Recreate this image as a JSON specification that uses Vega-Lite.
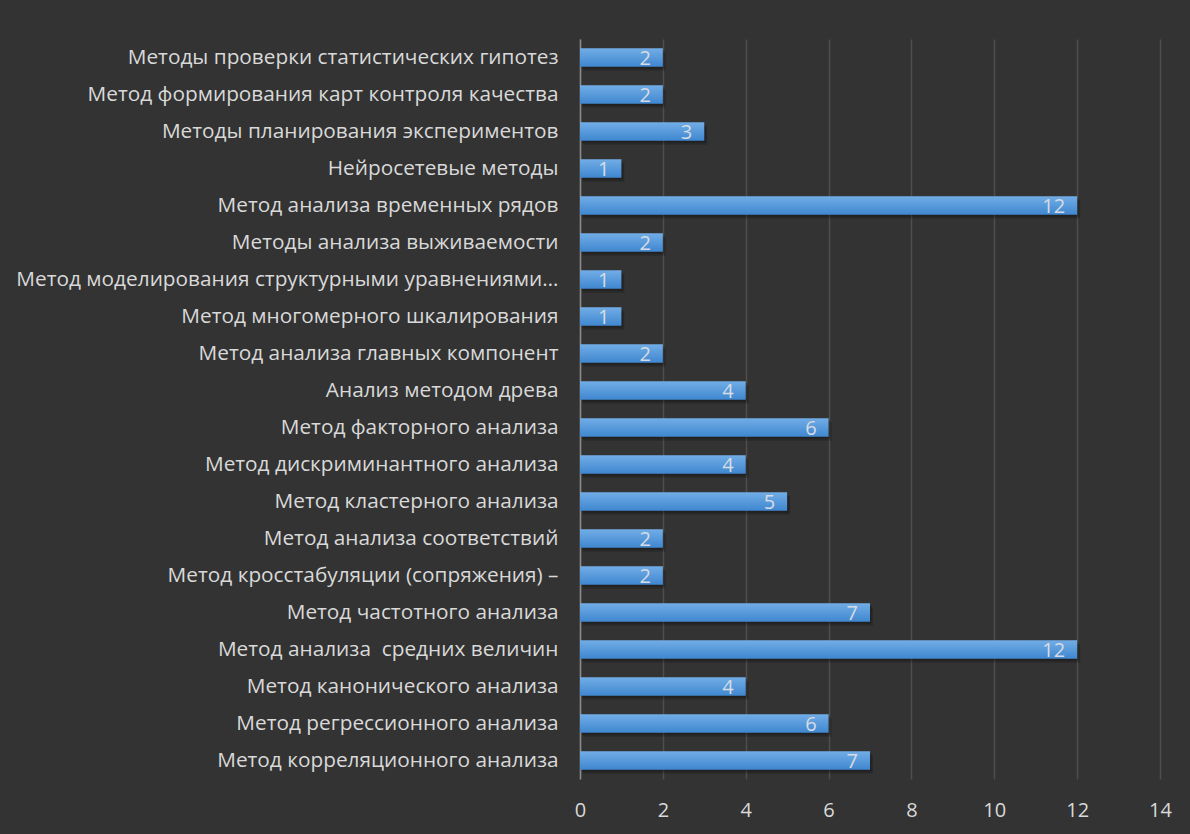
{
  "$schema": "https://vega.github.io/schema/vega-lite/v6.json",
  "autosize": "none",
  "width": 580,
  "height": 740,
  "padding": {"left": 580, "top": 39, "right": 30, "bottom": 55},
  "background": "#333333",
  "config": {
    "view": {"stroke": null},
    "font": "Open Sans",
    "axis": {"labelFont": "Open Sans", "labelColor": "#d9d9d9"}
  },
  "data": {
    "values": [
      {"method": "Методы проверки статистических гипотез\u00a0", "count": 2},
      {"method": "Метод формирования карт контроля качества", "count": 2},
      {"method": "Методы планирования экспериментов", "count": 3},
      {"method": "Нейросетевые методы", "count": 1},
      {"method": "Метод анализа временных рядов\u00a0", "count": 12},
      {"method": "Методы анализа выживаемости", "count": 2},
      {"method": "Метод моделирования структурными уравнениями…", "count": 1},
      {"method": "Метод многомерного шкалирования", "count": 1},
      {"method": "Метод анализа главных компонент", "count": 2},
      {"method": "Анализ методом древа", "count": 4},
      {"method": "Метод факторного анализа", "count": 6},
      {"method": "Метод дискриминантного анализа", "count": 4},
      {"method": "Метод кластерного анализа", "count": 5},
      {"method": "Метод анализа соответствий", "count": 2},
      {"method": "Метод кросстабуляции (сопряжения) –", "count": 2},
      {"method": "Метод частотного анализа", "count": 7},
      {"method": "Метод анализа\u00a0 средних величин", "count": 12},
      {"method": "Метод канонического анализа", "count": 4},
      {"method": "Метод регрессионного анализа", "count": 6},
      {"method": "Метод корреляционного анализа", "count": 7}
    ]
  },
  "encoding": {
    "y": {
      "field": "method",
      "type": "nominal",
      "sort": null,
      "scale": {"paddingInner": 0.5, "paddingOuter": 0.25},
      "axis": {
        "title": null,
        "ticks": false,
        "domain": true,
        "domainColor": "#8c8c8c",
        "domainWidth": 1.5,
        "labelPadding": 22,
        "labelLimit": 600,
        "labelFontSize": 20.8
      }
    },
    "x": {
      "field": "count",
      "type": "quantitative",
      "scale": {"domain": [0, 14], "nice": false},
      "axis": {
        "title": null,
        "values": [0, 2, 4, 6, 8, 10, 12, 14],
        "domain": false,
        "ticks": false,
        "grid": true,
        "gridColor": "#4e4e4e",
        "gridWidth": 1.5,
        "labelPadding": 21,
        "labelFontSize": 20,
        "labelFlush": false
      }
    }
  },
  "layer": [
    {
      "mark": {
        "type": "bar",
        "color": "#000000",
        "opacity": 0.18,
        "xOffset": 3,
        "yOffset": 4
      }
    },
    {
      "mark": {
        "type": "bar",
        "color": "#000000",
        "opacity": 0.18,
        "xOffset": 1.5,
        "yOffset": 2
      }
    },
    {
      "mark": {
        "type": "bar",
        "color": {
          "gradient": "linear",
          "x1": 0, "y1": 0, "x2": 0, "y2": 1,
          "stops": [
            {"offset": 0, "color": "#72ade6"},
            {"offset": 1, "color": "#3f87d0"}
          ]
        }
      }
    },
    {
      "mark": {
        "type": "text",
        "align": "right",
        "baseline": "middle",
        "dx": -12,
        "dy": 1,
        "fontSize": 20,
        "font": "Open Sans",
        "color": "#d6dce4"
      },
      "encoding": {"text": {"field": "count", "type": "quantitative"}}
    }
  ]
}
